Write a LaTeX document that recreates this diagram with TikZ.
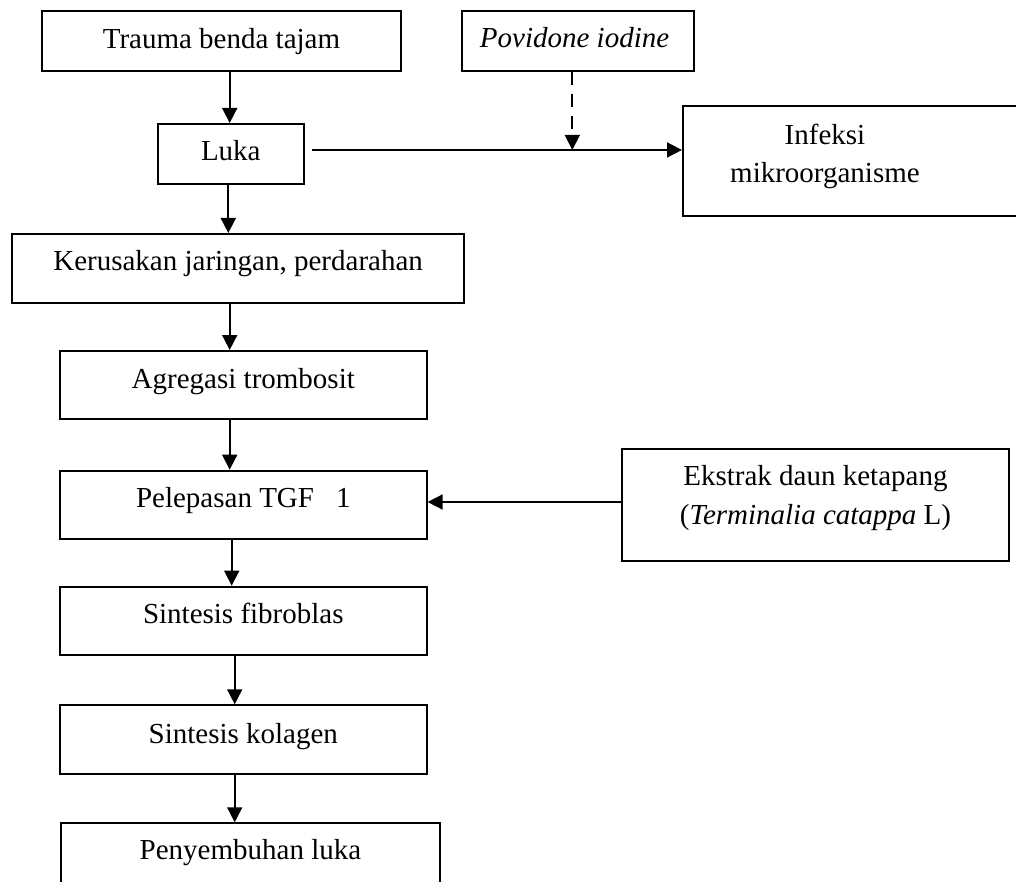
\documentclass[tikz,border=0pt]{standalone}
\usepackage{fontspec}
\setmainfont{Liberation Serif}
\usetikzlibrary{arrows.meta}
\begin{document}
\begin{tikzpicture}[x=1pt,y=-1pt,
  box/.style={draw, line width=1.9pt, inner sep=0pt, anchor=north west, font=\fontsize{29}{38.4}\selectfont},
  one/.style={text height=20pt},
  arr/.style={line width=1.7pt, -{Triangle[length=15pt,width=15pt]}},
  darr/.style={arr, dash pattern=on 13pt off 9pt}]
\useasboundingbox (0,0) rectangle (1016,882);

\node[box, one, minimum width=359pt, minimum height=60pt, text depth=4.6pt] (trauma) at (41,10) {Trauma benda tajam};
\node[box, one, minimum width=232pt, minimum height=60pt, text depth=6.6pt] (povidone) at (461,10) {\makebox[196pt][l]{\itshape Povidone iodine}};
\node[box, one, minimum width=146.3pt, minimum height=60pt, text depth=6pt] (luka) at (156.7,123) {Luka};
\node[box, minimum width=348pt, minimum height=110pt, align=center] (infeksi) at (682,105)
  {\makebox[348pt][l]{\makebox[284pt]{\rule{0pt}{20pt}Infeksi}}\\
   \makebox[348pt][l]{\makebox[284pt]{mikroorganisme\rule[-15pt]{0pt}{15pt}}}};
\node[box, one, minimum width=452.3pt, minimum height=69.3pt, text depth=15.4pt] (kerusakan) at (11,233) {Kerusakan jaringan, perdarahan};
\node[box, one, minimum width=366.7pt, minimum height=68.3pt, text depth=14pt] (agregasi) at (59,350) {Agregasi trombosit};
\node[box, one, minimum width=366.7pt, minimum height=68.6pt, text depth=14.6pt] (pelepasan) at (59,469.7) {Pelepasan TGF\hspace{22pt}1};
\node[box, minimum width=387.6pt, minimum height=111.7pt, align=center] (ekstrak) at (620.7,448.3)
  {\rule{0pt}{20pt}Ekstrak daun ketapang\\
   (\textit{Terminalia catappa} L)\rule[-20pt]{0pt}{20pt}};
\node[box, one, minimum width=366.7pt, minimum height=68.6pt, text depth=14.6pt] (fibroblas) at (59,585.7) {Sintesis fibroblas};
\node[box, one, minimum width=366.7pt, minimum height=68.7pt, text depth=12.8pt] (kolagen) at (59,704.3) {Sintesis kolagen};
\node[box, one, minimum width=379pt, minimum height=77.7pt, text depth=24.3pt] (sembuh) at (60,822.3) {Penyembuhan luka};

\coordinate (xa) at (229.7,0);
\coordinate (xb) at (228.3,0);
\coordinate (xc) at (231.7,0);
\coordinate (xd) at (234.7,0);
\coordinate (xp) at (572.3,0);
\coordinate (ye) at (0,502);
\path (luka.east) ++(7,-4) coordinate (ls);

\draw[arr] (trauma.south -| xa) -- (luka.north -| xa);
\draw[arr] (luka.south -| xb) -- (kerusakan.north -| xb);
\draw[arr] (kerusakan.south -| xa) -- (agregasi.north -| xa);
\draw[arr] (agregasi.south -| xa) -- (pelepasan.north -| xa);
\draw[arr] (pelepasan.south -| xc) -- (fibroblas.north -| xc);
\draw[arr] (fibroblas.south -| xd) -- (kolagen.north -| xd);
\draw[arr] (kolagen.south -| xd) -- (sembuh.north -| xd);
\draw[arr] (ls) -- (infeksi.west |- ls);
\draw[darr] (povidone.south -| xp) -- (xp |- ls);
\draw[arr] (ekstrak.west |- ye) -- (pelepasan.east |- ye);
\end{tikzpicture}
\end{document}
